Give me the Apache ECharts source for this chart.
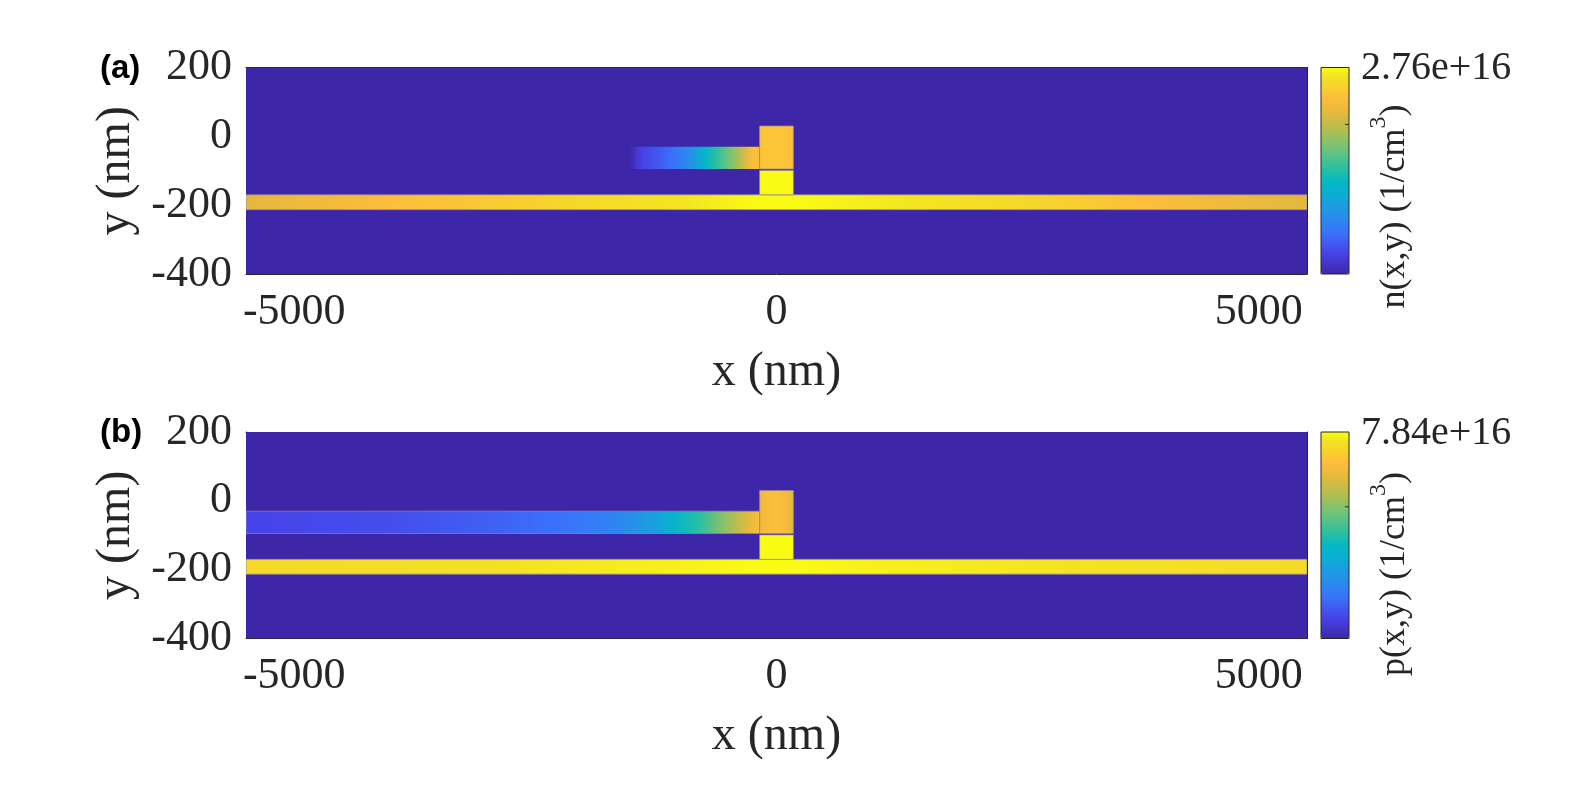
<!DOCTYPE html>
<html lang="en">
<head>
<meta charset="UTF-8">
<title>n(x,y) and p(x,y)</title>
<script src="https://cdn.jsdelivr.net/npm/echarts@6/dist/echarts.min.js"></script>
<style>
	html, body { margin: 0; padding: 0; background: #fff; }
	#chart { width: 1578px; height: 789px; }
</style>
</head>
<body>
<div id="chart"></div>
<script>
	// axes
	var xRange = [-5500, 5500];
	var yRange = [-400, 200];
	var xTicks = [-5000, 0, 5000];
	var yTicks = [-400, -200, 0, 200];

	// device outline (nm)
	var stripY = [-213, -170];
	var blockX = [-175, 175];
	var blockY = [-95, 30];
	var pillarY = [-170, -99];
	var armY = [-95, -30];

	// colour bar tops, in 1e16 /cm^3
	var nMax = 2.76;
	var pMax = 7.84;
	var nBarTick = 2;
	var pBarTick = 5;

	// (a) electron density n(x,y), 1e16 /cm^3, read along x
	var nStripX = [-5500, -5100, -4500, -3950, -3400, -2700, -2000, -900, -200, 200, 1350, 2450, 3150, 3850, 4550, 5500];
	var nStripV = [2.15, 2.21, 2.29, 2.35, 2.40, 2.48, 2.57, 2.65, 2.76, 2.76, 2.65, 2.57, 2.46, 2.35, 2.26, 2.15];
	var nBlockX = [-175, 0, 175];
	var nBlockV = [2.40, 2.43, 2.35];
	var nPillarX = [-175, 175];
	var nPillarV = [2.76, 2.76];
	var nArmX = [-1520, -1450, -1380, -1210, -1100, -960, -860, -745, -640, -530, -430, -330, -245, -175];
	var nArmV = [0.00, 0.17, 0.28, 0.41, 0.52, 0.69, 0.88, 1.19, 1.38, 1.60, 1.82, 2.10, 2.35, 2.37];

	// (b) hole density p(x,y), 1e16 /cm^3
	var pStripX = [-5500, -3000, -1000, -200, 200, 1000, 3000, 5500];
	var pStripV = [7.29, 7.45, 7.68, 7.84, 7.84, 7.68, 7.49, 7.33];
	var pBlockX = [-175, -90, 0, 90, 175];
	var pBlockV = [6.27, 6.59, 6.74, 6.51, 6.12];
	var pPillarX = [-175, 175];
	var pPillarV = [7.84, 7.84];
	var pArmX = [-5500, -4080, -2970, -2230, -1670, -1300, -1060, -820, -560, -340, -190, -175];
	var pArmV = [0.78, 0.94, 1.25, 1.57, 1.96, 2.59, 3.37, 3.92, 5.02, 5.96, 6.59, 6.59];

	// parula
	var parulaStops = [
		[0, '#3e26a8'], [0.1, '#4743e8'], [0.2, '#3a73fb'], [0.3, '#2494e6'], [0.4, '#08b0d3'],
		[0.45, '#05b8c4'], [0.5, '#24bea8'], [0.6, '#6ac47c'], [0.7, '#b4bd4f'], [0.75, '#d1ba42'],
		[0.8, '#ecb93d'], [0.85, '#fdbd3c'], [0.9, '#f9cf30'], [0.95, '#f3e025'], [1, '#f9fb15']
	];

	function hex(c) {
		return [parseInt(c.substr(1, 2), 16), parseInt(c.substr(3, 2), 16), parseInt(c.substr(5, 2), 16)];
	}

	function parula(t) {
		t = Math.max(0, Math.min(1, t));
		for (var i = 1; i < parulaStops.length; i++) {
			if (t <= parulaStops[i][0]) {
				var a = parulaStops[i - 1], b = parulaStops[i];
				var f = (t - a[0]) / (b[0] - a[0]);
				var ca = hex(a[1]), cb = hex(b[1]);
				return 'rgb(' + ca.map(function (v, k) { return Math.round(v + (cb[k] - v) * f); }).join(',') + ')';
			}
		}
		return parulaStops[parulaStops.length - 1][1];
	}

	var parulaList = [];
	for (var i = 0; i <= 40; i++) parulaList.push(parula(i / 40));

	function shape(box, xs, vs, max, edge) {
		return { box: box, xs: xs, vs: vs, max: max, edge: edge };
	}

	var panelA = [
		shape([xRange[0], xRange[1], yRange[0], yRange[1]], xRange, [0, 0], nMax, false),
		shape([xRange[0], xRange[1], stripY[0], stripY[1]], nStripX, nStripV, nMax, true),
		shape([blockX[0], blockX[1], pillarY[0], pillarY[1]], nPillarX, nPillarV, nMax, true),
		shape([nArmX[0], blockX[0], armY[0], armY[1]], nArmX, nArmV, nMax, false),
		shape([blockX[0], blockX[1], blockY[0], blockY[1]], nBlockX, nBlockV, nMax, true)
	];
	var panelB = [
		shape([xRange[0], xRange[1], yRange[0], yRange[1]], xRange, [0, 0], pMax, false),
		shape([xRange[0], xRange[1], stripY[0], stripY[1]], pStripX, pStripV, pMax, true),
		shape([blockX[0], blockX[1], pillarY[0], pillarY[1]], pPillarX, pPillarV, pMax, true),
		shape([pArmX[0], blockX[0], armY[0], armY[1]], pArmX, pArmV, pMax, true),
		shape([blockX[0], blockX[1], blockY[0], blockY[1]], pBlockX, pBlockV, pMax, true)
	];

	function renderShape(panel) {
		return function (params, api) {
			var s = panel[params.dataIndex];
			var p0 = api.coord([api.value(0), api.value(3)]);
			var p1 = api.coord([api.value(1), api.value(2)]);
			var w = s.box[1] - s.box[0];
			var stops = s.xs.map(function (x, k) {
				return { offset: Math.max(0, Math.min(1, (x - s.box[0]) / w)), color: parula(s.vs[k] / s.max) };
			});
			return {
				type: 'rect',
				shape: { x: p0[0], y: p0[1], width: p1[0] - p0[0], height: p1[1] - p0[1] },
				style: {
					fill: new echarts.graphic.LinearGradient(0, 0, 1, 0, stops),
					stroke: s.edge ? 'rgba(150,135,165,0.7)' : null,
					lineWidth: 1
				}
			};
		};
	}

	var serif = 'Liberation Serif';
	var ink = '#262626';
	var gridL = 246, gridW = 1061, gridH = 206.5;
	var topA = 67.5, topB = 432;
	var barL = 1321, barW = 28;

	function xAxes(gi) {
		var common = {
			gridIndex: gi, type: 'value', min: xRange[0], max: xRange[1],
			axisLine: { show: true, onZero: false, lineStyle: { color: ink, width: 1 } },
			axisTick: { show: true, inside: true, length: 11, customValues: xTicks, lineStyle: { color: ink } },
			splitLine: { show: false }
		};
		return [
			Object.assign({}, common, {
				position: 'bottom',
				axisLabel: {
					customValues: xTicks, fontFamily: serif, fontSize: 44, color: ink, margin: 16,
					formatter: function (v) { return String(v); }
				},
				name: 'x (nm)', nameLocation: 'middle', nameGap: 74,
				nameTextStyle: { fontFamily: serif, fontSize: 48, color: ink }
			}),
			Object.assign({}, common, { position: 'top', axisLabel: { show: false } })
		];
	}

	function yAxes(gi) {
		var common = {
			gridIndex: gi, type: 'value', min: yRange[0], max: yRange[1],
			axisLine: { show: true, onZero: false, lineStyle: { color: ink, width: 1 } },
			axisTick: { show: true, inside: true, length: 11, customValues: yTicks, lineStyle: { color: ink } },
			splitLine: { show: false }
		};
		return [
			Object.assign({}, common, {
				position: 'left',
				axisLabel: {
					customValues: yTicks, fontFamily: serif, fontSize: 44, color: ink, margin: 14,
					formatter: function (v) { return String(v); }
				},
				name: 'y (nm)', nameLocation: 'middle', nameGap: 100, nameRotate: 90,
				nameTextStyle: { fontFamily: serif, fontSize: 48, color: ink }
			}),
			Object.assign({}, common, { position: 'right', axisLabel: { show: false } })
		];
	}

	function series(panel, ax) {
		return {
			type: 'custom',
			coordinateSystem: 'cartesian2d',
			xAxisIndex: ax, yAxisIndex: ax,
			clip: true,
			silent: true,
			z: 1,
			renderItem: renderShape(panel),
			encode: { x: [0, 1], y: [2, 3] },
			data: panel.map(function (s) { return s.box; })
		};
	}

	function colorBar(top, max) {
		return {
			type: 'continuous', min: 0, max: max, seriesIndex: [],
			orient: 'vertical', left: barL, top: top, padding: 0,
			itemWidth: barW, itemHeight: gridH, calculable: false, hoverLink: false,
			inRange: { color: parulaList }
		};
	}

	// measuring context for the rotated colour-bar title
	var measure = document.createElement('canvas').getContext('2d');
	function textWidth(str, size) {
		measure.font = size + 'px "' + serif + '"';
		return measure.measureText(str).width;
	}

	function barTitle(top, mid, name) {
		var main = 36, sup = 24;
		var w1 = textWidth(name, main), w2 = textWidth('3', sup), w3 = textWidth(')', main);
		var x0 = -(w1 + w2 + w3) / 2;
		var yMain = -0.3375 * main, ySup = -20 - 0.3375 * sup;
		return {
			type: 'group', x: 1406.5, y: top + mid, rotation: Math.PI / 2,
			children: [
				{ type: 'text', x: x0, y: yMain, style: { text: name, fontFamily: serif, fontSize: main, fill: ink, align: 'left', verticalAlign: 'middle' } },
				{ type: 'text', x: x0 + w1, y: ySup, style: { text: '3', fontFamily: serif, fontSize: sup, fill: ink, align: 'left', verticalAlign: 'middle' } },
				{ type: 'text', x: x0 + w1 + w2, y: yMain, style: { text: ')', fontFamily: serif, fontSize: main, fill: ink, align: 'left', verticalAlign: 'middle' } }
			]
		};
	}

	function barText(top, label, name, tickV, max, mid) {
		var tickY = top + (1 - tickV / max) * gridH;
		return [
			{ type: 'rect', shape: { x: barL, y: top, width: barW, height: gridH }, style: { fill: null, stroke: ink, lineWidth: 1 }, z: 100 },
			{ type: 'line', shape: { x1: barL + barW - 4, y1: tickY, x2: barL + barW, y2: tickY }, style: { stroke: ink, lineWidth: 1 }, z: 100 },
			{ type: 'text', x: 1361, y: top + 1, style: { text: label, fontFamily: serif, fontSize: 40, fill: ink, align: 'left', verticalAlign: 'middle' } },
			barTitle(top, mid, name)
		];
	}

	var chart = echarts.init(document.getElementById('chart'));
	chart.setOption({
		animation: false,
		backgroundColor: '#fff',
		grid: [
			{ left: gridL, top: topA, width: gridW, height: gridH },
			{ left: gridL, top: topB, width: gridW, height: gridH }
		],
		xAxis: xAxes(0).concat(xAxes(1)),
		yAxis: yAxes(0).concat(yAxes(1)),
		visualMap: [colorBar(topA, nMax), colorBar(topB, pMax)],
		series: [series(panelA, 0), series(panelB, 2)],
		graphic: [].concat(
			barText(topA, '2.76e+16', 'n(x,y) (1/cm', nBarTick, nMax, 139),
			barText(topB, '7.84e+16', 'p(x,y) (1/cm', pBarTick, pMax, 142),
			[
				{ type: 'text', x: 100, y: topA + 1, style: { text: '(a)', fontFamily: 'Liberation Sans', fontWeight: 'bold', fontSize: 33, fill: '#000', verticalAlign: 'middle' } },
				{ type: 'text', x: 100, y: topB + 1, style: { text: '(b)', fontFamily: 'Liberation Sans', fontWeight: 'bold', fontSize: 33, fill: '#000', verticalAlign: 'middle' } }
			]
		)
	});
</script>
</body>
</html>
